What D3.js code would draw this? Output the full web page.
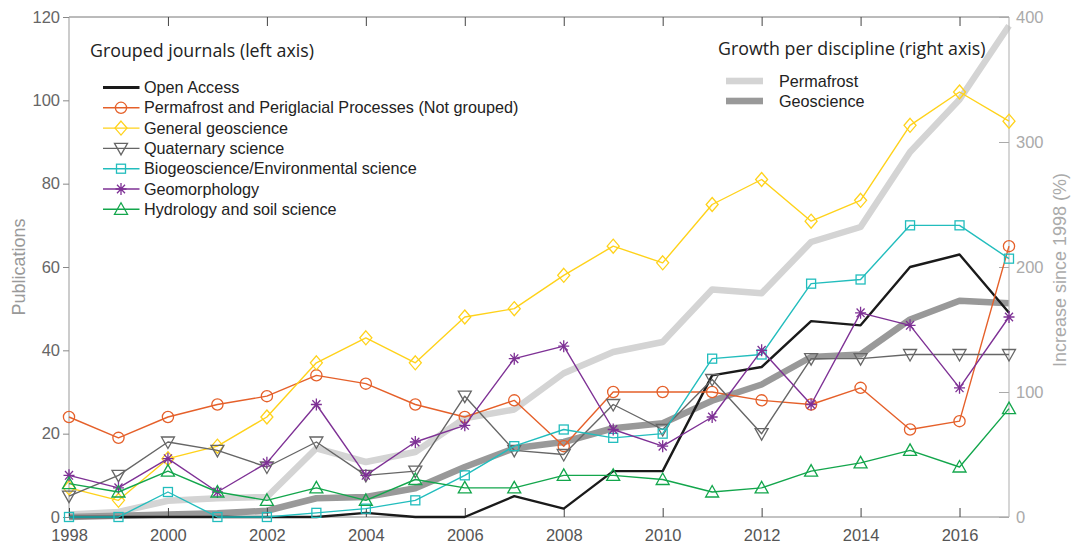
<!DOCTYPE html>
<html><head><meta charset="utf-8">
<script src="https://cdn.jsdelivr.net/npm/d3@7"></script>
<style>body{margin:0;background:#fff}svg{display:block}</style>
</head><body><svg id="c" width="1075" height="545"></svg>
<script>
const years = d3.range(1998, 2018);
const openAccess   = [0,0,0,0,0,0,1,0,0,5,2,11,11,34,36,47,46,60,63,49];
const permafrostPP = [24,19,24,27,29,34,32,27,24,28,17,30,30,30,28,27,31,21,23,65];
const generalGeo   = [7,4,14,17,24,37,43,37,48,50,58,65,61,75,81,71,76,94,102,95];
const quaternary   = [5,10,18,16,12,18,10,11,29,16,15,27,21,33,20,38,38,39,39,39];
const biogeo       = [0,0,6,0,0,1,2,4,10,17,21,19,20,38,39,56,57,70,70,62];
const geomorph     = [10,7,14,6,13,27,10,18,22,38,41,21,17,24,40,27,49,46,31,48];
const hydrology    = [8,6,11,6,4,7,4,9,7,7,10,10,9,6,7,11,13,16,12,26];
const growthPermafrost = [2,4,13,15,16,55,44,52,79,86,115,132,140,182,179,220,232,292,334,393];
const growthGeoscience = [0,1,2,3,5,15,16,23,40,55,60,71,75,93,106,128,130,158,173,171];
const leftTicks = [0,20,40,60,80,100,120];
const rightTicks = [0,100,200,300,400];
const xTicks = [1998,2000,2002,2004,2006,2008,2010,2012,2014,2016];

const series = [
  {name:"Open Access", values:openAccess, color:"#1a1a1a", marker:"none", lw:2.4},
  {name:"Permafrost and Periglacial Processes (Not grouped)", values:permafrostPP, color:"#e5602a", marker:"circle", lw:1.4},
  {name:"General geoscience", values:generalGeo, color:"#ffd21a", marker:"diamond", lw:1.4},
  {name:"Quaternary science", values:quaternary, color:"#666666", marker:"down", lw:1.4},
  {name:"Biogeoscience/Environmental science", values:biogeo, color:"#22bdbd", marker:"square", lw:1.4},
  {name:"Geomorphology", values:geomorph, color:"#7e3195", marker:"star", lw:1.4},
  {name:"Hydrology and soil science", values:hydrology, color:"#13a64c", marker:"up", lw:1.4}
];
const growth = [
  {name:"Permafrost", values:growthPermafrost, color:"#d4d4d4"},
  {name:"Geoscience", values:growthGeoscience, color:"#999999"}
];

const svg = d3.select("#c");
const L=69, R=1009, T=17, B=517;
const x = d3.scaleLinear().domain([1998,2017]).range([L,R]);
const yL = d3.scaleLinear().domain([0,120]).range([B,T]);
const yR = d3.scaleLinear().domain([0,400]).range([B,T]);
const tickFont = "'Liberation Sans', Arial, sans-serif";

growth.forEach(g=>{
  svg.append("path").datum(g.values)
    .attr("d", d3.line().x((d,i)=>x(years[i])).y(d=>yR(d)))
    .attr("fill","none").attr("stroke",g.color).attr("stroke-width",6.5).attr("stroke-linejoin","round");
});

function drawMarker(g, type, cx, cy, color){
  const s = g.append("g").attr("transform",`translate(${cx},${cy})`);
  const st = {fill:"none", stroke:color, "stroke-width":1.3};
  let el;
  if(type==="circle") el = s.append("circle").attr("r",5.6);
  else if(type==="diamond") el = s.append("path").attr("d","M0,-7L6,0L0,7L-6,0Z");
  else if(type==="square") el = s.append("rect").attr("x",-4.5).attr("y",-4.5).attr("width",9).attr("height",9);
  else if(type==="down") el = s.append("path").attr("d","M-6.5,-5L6.5,-5L0,6.5Z");
  else if(type==="up") el = s.append("path").attr("d","M-6.5,5L6.5,5L0,-6.5Z");
  else if(type==="star") el = s.append("path").attr("d","M-5.5,0L5.5,0M0,-6L0,6M-4,-4.3L4,4.3M-4,4.3L4,-4.3");
  if(el) Object.entries(st).forEach(([k,v])=>el.attr(k,v));
}

const axG = svg.append("g");
axG.append("line").attr("x1",L).attr("x2",R).attr("y1",T).attr("y2",T).attr("stroke","#777").attr("stroke-width",1);
axG.append("line").attr("x1",L).attr("x2",R).attr("y1",B).attr("y2",B).attr("stroke","#888").attr("stroke-width",1.2);
axG.append("line").attr("x1",L).attr("x2",L).attr("y1",T).attr("y2",B).attr("stroke","#aaa").attr("stroke-width",1.2);
axG.append("line").attr("x1",R).attr("x2",R).attr("y1",T).attr("y2",B).attr("stroke","#bbb").attr("stroke-width",1.2);

const xAxis = svg.append("g").attr("transform",`translate(0,${B})`)
  .call(d3.axisBottom(x).tickValues(xTicks).tickFormat(d3.format("d")).tickSize(-9).tickPadding(14));
xAxis.select(".domain").remove();
xAxis.selectAll("line").attr("stroke","#444");
xAxis.selectAll("text").attr("fill","#555").style("font-family",tickFont).style("font-size","16.5px").attr("dy","0.6em");
const xTop = svg.append("g").attr("transform",`translate(0,${T})`)
  .call(d3.axisTop(x).tickValues(xTicks.slice(1)).tickFormat("").tickSize(-9));
xTop.select(".domain").remove();
xTop.selectAll("line").attr("stroke","#444");

const yAxisL = svg.append("g").attr("transform",`translate(${L},0)`)
  .call(d3.axisLeft(yL).tickValues(leftTicks).tickSize(6).tickPadding(3));
yAxisL.select(".domain").remove();
yAxisL.selectAll("line").attr("stroke","#888");
yAxisL.selectAll("text").attr("fill","#666").style("font-family",tickFont).style("font-size","16.5px");

const yAxisR = svg.append("g").attr("transform",`translate(${R},0)`)
  .call(d3.axisRight(yR).tickValues(rightTicks).tickSize(-10).tickPadding(7));
yAxisR.select(".domain").remove();
yAxisR.selectAll("line").attr("stroke","#aaa");
yAxisR.selectAll("text").attr("fill","#aaa").style("font-family",tickFont).style("font-size","16.5px");

svg.append("text").attr("transform",`translate(25,267) rotate(-90)`).attr("text-anchor","middle")
  .attr("fill","#999").style("font-family",tickFont).style("font-size","18px").text("Publications");
svg.append("text").attr("transform",`translate(1066,270) rotate(-90)`).attr("text-anchor","middle")
  .attr("fill","#aaa").style("font-family",tickFont).style("font-size","18px").text("Increase since 1998 (%)");

series.forEach(s=>{
  svg.append("path").datum(s.values)
    .attr("d", d3.line().x((d,i)=>x(years[i])).y(d=>yL(d)))
    .attr("fill","none").attr("stroke",s.color).attr("stroke-width",s.lw).attr("stroke-linejoin","round");
  if(s.marker!=="none"){
    const mg = svg.append("g");
    s.values.forEach((v,i)=>drawMarker(mg, s.marker, x(years[i]), yL(v), s.color));
  }
});

const titleFont = "'Open Sans', 'Noto Sans', sans-serif";
svg.append("text").attr("x",90).attr("y",57).attr("fill","#222").style("font-family",titleFont).style("font-size","17.8px").text("Grouped journals (left axis)");
series.forEach((s,i)=>{
  const yy = 87.5 + i*20.3;
  svg.append("line").attr("x1",103).attr("x2",139.5).attr("y1",yy).attr("y2",yy).attr("stroke",s.color).attr("stroke-width",s.lw+ (s.marker==="none"?0.4:0));
  if(s.marker!=="none") drawMarker(svg, s.marker, 121, yy, s.color);
  svg.append("text").attr("x",144).attr("y",yy+5.5).attr("fill","#222").style("font-family",tickFont).style("font-size","16.2px").text(s.name);
});

svg.append("text").attr("x",718).attr("y",55).attr("fill","#222").style("font-family",titleFont).style("font-size","17.8px").text("Growth per discipline (right axis)");
growth.forEach((g,i)=>{
  const yy = 81 + i*20;
  svg.append("rect").attr("x",726).attr("y",yy-3.3).attr("width",37).attr("height",6.6).attr("fill",g.color);
  svg.append("text").attr("x",779).attr("y",yy+5.5).attr("fill","#222").style("font-family",tickFont).style("font-size","16.2px").text(g.name);
});
</script></body></html>
